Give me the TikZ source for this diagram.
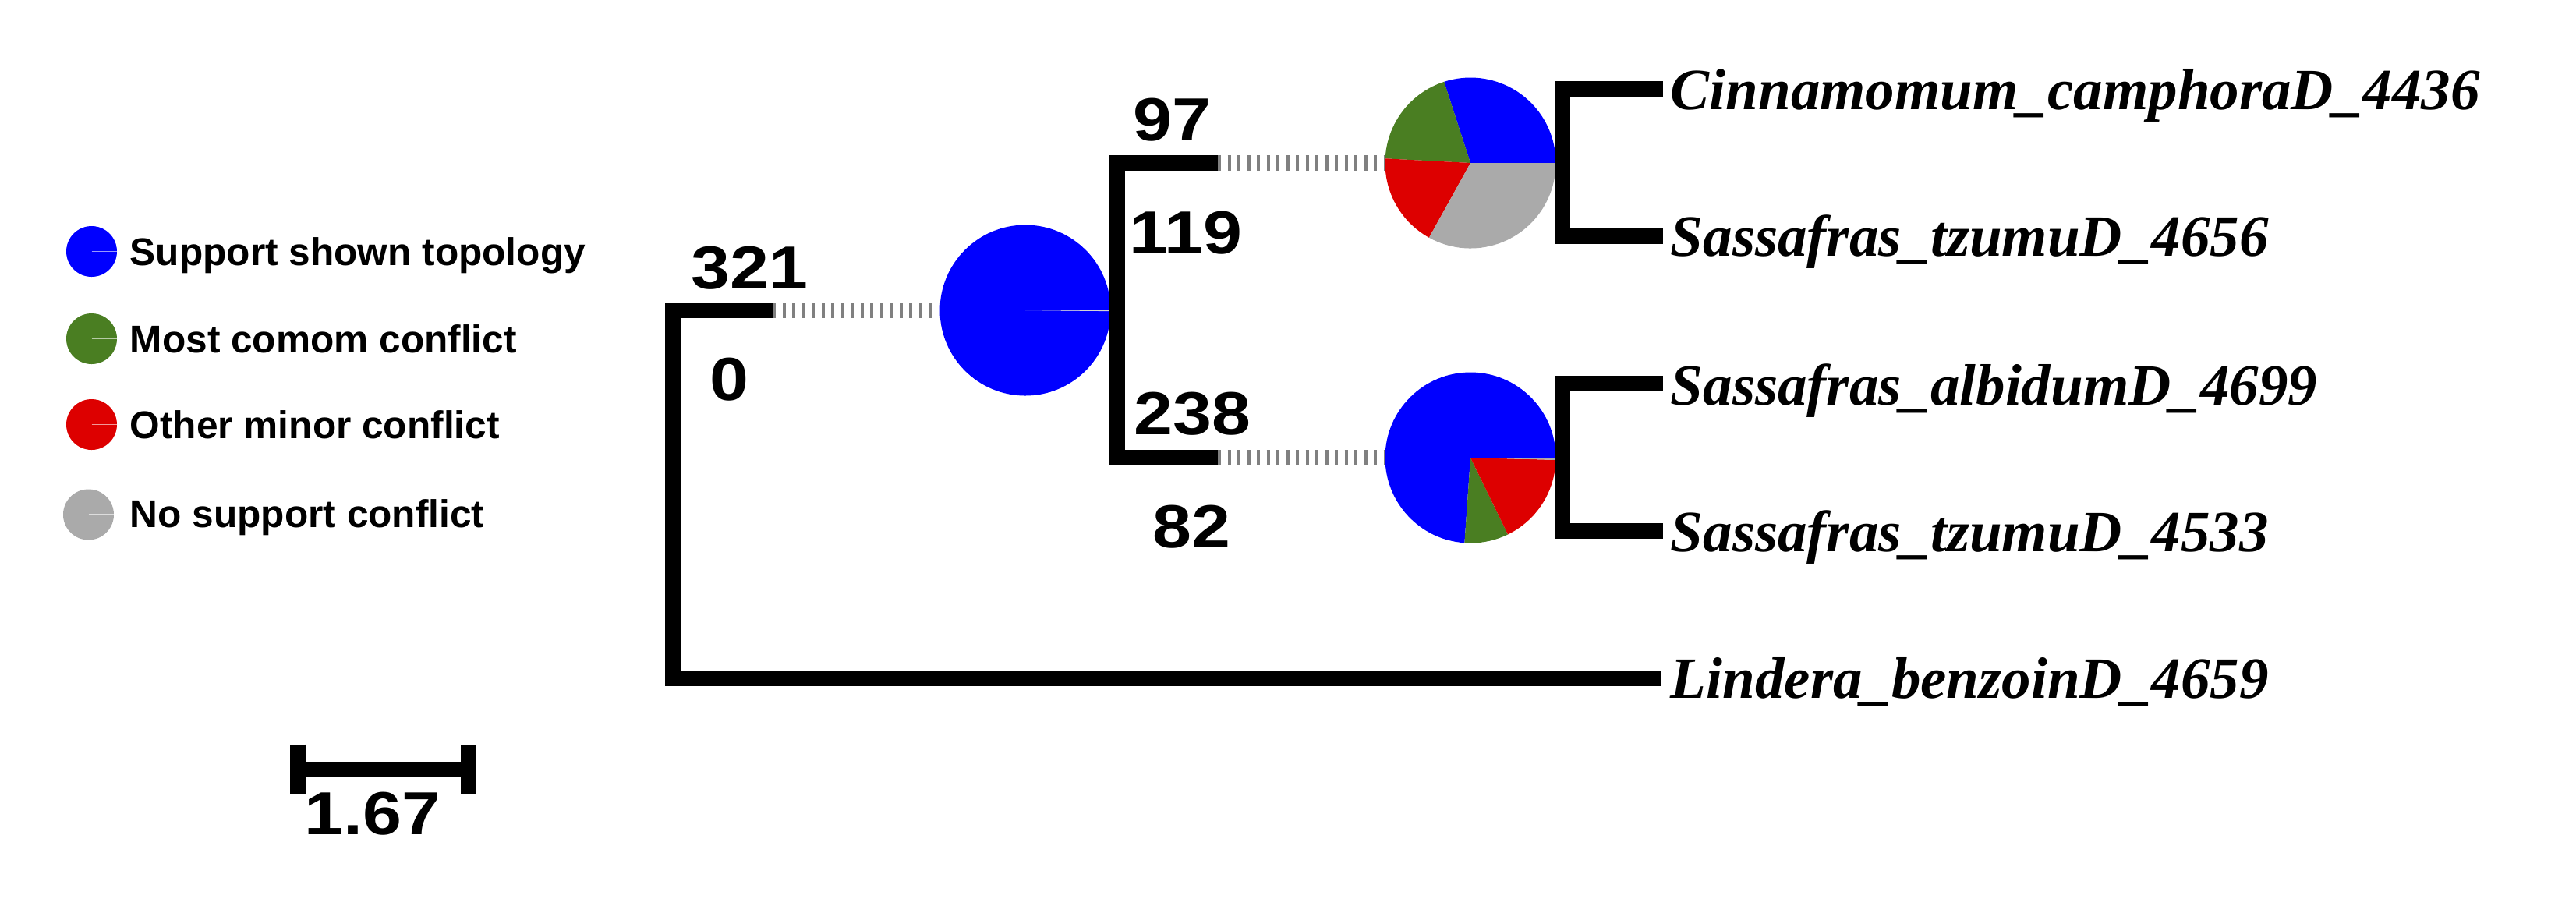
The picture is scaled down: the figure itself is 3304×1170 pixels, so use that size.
\documentclass[tikz,border=0pt]{standalone}
\usepackage{fontspec}
\setmainfont{Liberation Serif}
\newfontfamily\numfont{Liberation Sans}[FakeStretch=1.15]
\newfontfamily\legfont{Liberation Sans}
\usetikzlibrary{positioning}

\definecolor{topoblue}{RGB}{0,0,255}
\definecolor{maingreen}{RGB}{74,126,34}
\definecolor{minorred}{RGB}{221,0,0}
\definecolor{nosupgray}{RGB}{170,170,170}
\definecolor{dashgray}{RGB}{128,128,128}

\tikzset{
  branch/.style={line width=5pt, line cap=butt, line join=miter},
  stub/.style={dashgray, line width=5pt, dash pattern=on 1pt off 2.125pt},
  pienode/.style={circle, minimum size=54.75pt, inner sep=0pt},
  legdot/.style={circle, minimum size=16.25pt, inner sep=0pt},
  supnum/.style={anchor=base west, inner sep=0pt, font=\numfont\bfseries\fontsize{19.5pt}{20pt}\selectfont},
  taxon/.style={anchor=base west, inner sep=0pt, font=\bfseries\itshape\fontsize{18.75pt}{20pt}\selectfont},
  legtext/.style={anchor=base west, inner sep=0pt, font=\legfont\bfseries\fontsize{12.4pt}{14pt}\selectfont},
}

% one wedge of a pie, angles counter-clockwise from east
\newcommand{\pieslice}[4]{\fill[#4] (#1.center) -- ++(-#2:109.5) arc (-#2:-#3:109.5) -- cycle;}

\begin{document}
\begin{tikzpicture}[x=0.25pt,y=-0.25pt]
\fill[white] (0,0) rectangle (3304,1170);
\useasboundingbox (0,0) rectangle (3304,1170);

%Legend
\node[legdot, fill=topoblue] (l1) at (117.5,322.5) {};
\node[legdot, fill=maingreen] (l2) at (117.5,434.5) {};
\node[legdot, fill=minorred] (l3) at (117.5,544.5) {};
\node[legdot, fill=nosupgray] (l4) at (113.5,660) {};
\foreach \d in {l1,l2,l3,l4}
  \draw[white, opacity=0.6, line width=0.3pt] (\d.center) -- (\d.east);
% Text Node
\node[legtext] (lt1) at (166,340) {Support shown topology};
\node[legtext] (lt2) at (166,452) {Most comom conflict};
\node[legtext] (lt3) at (166,562) {Other minor conflict};
\node[legtext] (lt4) at (166,676) {No support conflict};

%Pies
\node[pienode] (pa) at (1315,398) {};
\node[pienode] (pb) at (1886,209) {};
\node[pienode] (pc) at (1886,587) {};
\pieslice{pa}{0}{359.4}{topoblue}
\pieslice{pa}{359.4}{360}{nosupgray!50!white}
\pieslice{pb}{0}{108}{topoblue}
\pieslice{pb}{108}{177}{maingreen}
\pieslice{pb}{177}{241}{minorred}
\pieslice{pb}{241}{360}{nosupgray}
\pieslice{pc}{0}{266}{topoblue}
\pieslice{pc}{266}{296}{maingreen}
\pieslice{pc}{296}{358.5}{minorred}
\pieslice{pc}{358.5}{360}{nosupgray}

%Tree
\coordinate (n0t) at (863,398);
\coordinate (n0b) at (863,869.5);
\coordinate (e0) at (991,398);
\coordinate (tip5) at (2130,869.5);
\coordinate (n1t) at (1433,209);
\coordinate (n1b) at (1433,587);
\coordinate (e1) at (1562,209);
\coordinate (e2) at (1562,587);
\coordinate (n2t) at (2004,114);
\coordinate (n2b) at (2004,303);
\coordinate (tip1) at (2133,114);
\coordinate (tip2) at (2133,303);
\coordinate (n3t) at (2004,492);
\coordinate (n3b) at (2004,681);
\coordinate (tip3) at (2133,492);
\coordinate (tip4) at (2133,681);

\draw[stub] (e0) -- (pa.west);
\draw[stub] (e1) -- (pb.west);
\draw[stub] (e2) -- (pc.west);
\draw[branch] (e0) -- (n0t) -- (n0b) -- (tip5);
\draw[branch] (e1) -- (n1t) -- (n1b) -- (e2);
\draw[branch] (tip1) -- (n2t) -- (n2b) -- (tip2);
\draw[branch] (tip3) -- (n3t) -- (n3b) -- (tip4);

% Text Node
\node[supnum] (s321) at (886,370) {321};
\node[supnum] (s0) at (910,513) {0};
\node[supnum] (s97) at (1453,180) {97};
\node[supnum] (s119) at (1448,325) {119};
\node[supnum] (s238) at (1454,557) {238};
\node[supnum] (s82) at (1478,702) {82};

% Text Node
\node[taxon] (t1) at (2142,140) {Cinnamomum\_camphoraD\_4436};
\node[taxon] (t2) at (2142,328) {Sassafras\_tzumuD\_4656};
\node[taxon] (t3) at (2142,519) {Sassafras\_albidumD\_4699};
\node[taxon] (t4) at (2142,707) {Sassafras\_tzumuD\_4533};
\node[taxon] (t5) at (2142,895) {Lindera\_benzoinD\_4659};

%Scale bar
\coordinate (sbl) at (382,986.5);
\coordinate (sbr) at (601,986.5);
\draw[branch] (sbl) -- (sbr);
\draw[branch] (sbl) ++(0,-32) -- ++(0,64);
\draw[branch] (sbr) ++(0,-32) -- ++(0,64);
\node[supnum] (sbar) at (390,1070) {1.67};

\end{tikzpicture}
\end{document}
